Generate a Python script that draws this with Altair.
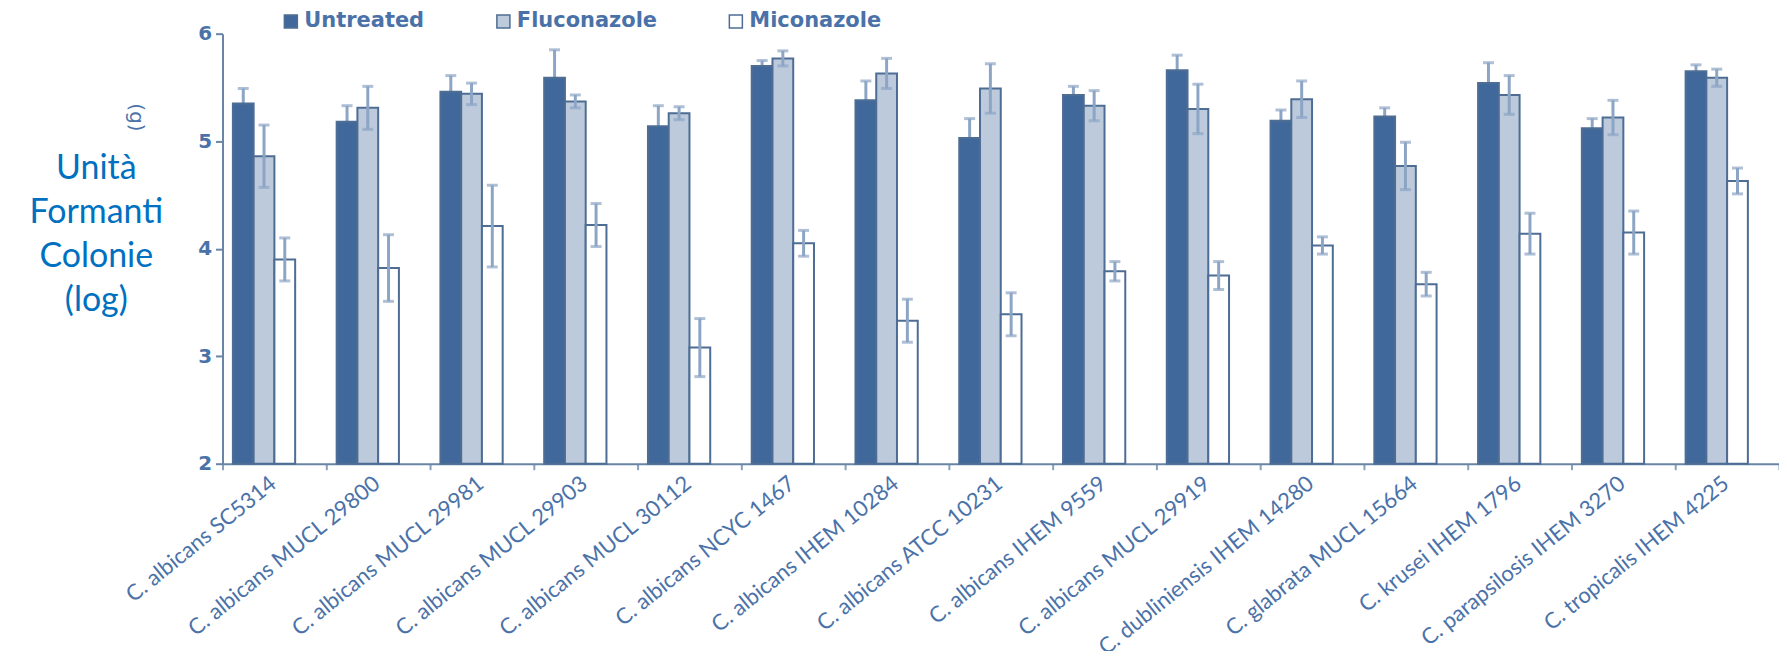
import altair as alt
import pandas as pd

strains = [
    "C. albicans SC5314", "C. albicans MUCL 29800", "C. albicans MUCL 29981",
    "C. albicans MUCL 29903", "C. albicans MUCL 30112", "C. albicans NCYC 1467",
    "C. albicans IHEM 10284", "C. albicans ATCC 10231", "C. albicans IHEM 9559",
    "C. albicans MUCL 29919", "C. dubliniensis IHEM 14280", "C. glabrata MUCL 15664",
    "C. krusei IHEM 1796", "C. parapsilosis IHEM 3270", "C. tropicalis IHEM 4225",
]
series = ["Untreated", "Fluconazole", "Miconazole"]

untreated = [5.35, 5.18, 5.46, 5.59, 5.14, 5.70, 5.38, 5.03, 5.43, 5.66, 5.19, 5.23, 5.54, 5.12, 5.65]
untreated_err = [0.14, 0.15, 0.15, 0.26, 0.19, 0.05, 0.18, 0.18, 0.08, 0.14, 0.10, 0.08, 0.19, 0.09, 0.06]
fluconazole = [4.86, 5.31, 5.44, 5.37, 5.26, 5.77, 5.63, 5.49, 5.33, 5.30, 5.39, 4.77, 5.43, 5.22, 5.59]
fluconazole_err = [0.29, 0.20, 0.10, 0.06, 0.06, 0.07, 0.14, 0.23, 0.14, 0.23, 0.17, 0.22, 0.18, 0.16, 0.08]
miconazole = [3.90, 3.82, 4.21, 4.22, 3.08, 4.05, 3.33, 3.39, 3.79, 3.75, 4.03, 3.67, 4.14, 4.15, 4.63]
miconazole_err = [0.20, 0.31, 0.38, 0.20, 0.27, 0.12, 0.20, 0.20, 0.09, 0.13, 0.08, 0.11, 0.19, 0.20, 0.12]

fills = ["#41689B", "#BCCADC", "#FFFFFF"]
edge = "#4E6D94"
text_col = "#4A72A8"

rows = []
for name, vals, errs in [("Untreated", untreated, untreated_err),
                         ("Fluconazole", fluconazole, fluconazole_err),
                         ("Miconazole", miconazole, miconazole_err)]:
    for s, v, e in zip(strains, vals, errs):
        rows.append({"strain": s, "series": name, "value": v, "lo": v - e, "hi": v + e})
df = pd.DataFrame(rows)

x_enc = alt.X(
    "strain:N", sort=strains,
    scale=alt.Scale(paddingInner=0, paddingOuter=0),
    axis=alt.Axis(
        title=None, labelAngle=-39, labelAlign="right", labelBaseline="top",
        tickBand="extent", labelFont="Lato", labelFontSize=22, labelColor=text_col,
        labelPadding=3, labelOffset=-8, labelOverlap=False, labelLimit=500,
        domainColor="#6A84A6", domainWidth=2, tickColor="#8AA0BD", tickSize=6, tickWidth=2,
    ),
)
xoff = alt.XOffset(
    "series:N", sort=series,
    scale=alt.Scale(domain=series + ["_"], paddingInner=0, paddingOuter=0.5),
)
y_scale = alt.Scale(domain=[2, 6], nice=False, zero=False)

base = alt.Chart(df)

bars = base.mark_bar(stroke=edge, strokeWidth=2).encode(
    x=x_enc,
    xOffset=xoff,
    y=alt.Y(
        "value:Q", scale=y_scale,
        axis=alt.Axis(
            values=[2, 3, 4, 5, 6], grid=False, format="d",
            title=["Unità", "Formanti", "Colonie", "(log)"],
            titleAngle=0, titleFont="Lato", titleFontSize=34, titleFontWeight="normal",
            titleColor="#0070C0", titleAlign="center", titleBaseline="top",
            titleLineHeight=44, titleX=-127, titleY=118,
            labelFont="DejaVu Sans", labelFontSize=20, labelFontWeight="bold",
            labelColor=text_col, labelPadding=4,
            domainColor="#6A84A6", domainWidth=2, tickColor="#6A84A6", tickSize=7, tickWidth=2,
        ),
    ),
    y2=alt.datum(2),
    color=alt.Color(
        "series:N", sort=series,
        scale=alt.Scale(domain=series, range=fills),
        legend=alt.Legend(
            title=None, orient="none", direction="horizontal", legendX=58, legendY=-23,
            symbolType="square", symbolSize=170, symbolStrokeColor=edge, symbolStrokeWidth=1.5,
            symbolOpacity=1,
            labelFont="DejaVu Sans", labelFontSize=21, labelFontWeight="bold",
            labelColor=text_col, columnPadding=68, labelOffset=3,
        ),
    ),
)

def err_layers(flt):
    b = base.transform_filter(flt)
    rule = b.mark_rule(color="#8DA5C5", strokeWidth=3).encode(
        x=alt.X("strain:N", sort=strains), xOffset=xoff,
        y=alt.Y("lo:Q", scale=y_scale), y2="hi:Q",
    )
    cap_hi = b.mark_tick(color="#8DA5C5", thickness=3, size=11).encode(
        x=alt.X("strain:N", sort=strains), xOffset=xoff, y=alt.Y("hi:Q", scale=y_scale),
    )
    cap_lo = b.mark_tick(color="#8DA5C5", thickness=3, size=11).encode(
        x=alt.X("strain:N", sort=strains), xOffset=xoff, y=alt.Y("lo:Q", scale=y_scale),
    )
    return rule + cap_hi + cap_lo

under = err_layers(alt.datum.series == "Untreated")
over = err_layers(alt.datum.series != "Untreated")

stray = alt.Chart(pd.DataFrame({"t": ["(g)"]})).mark_text(
    angle=90, font="DejaVu Sans", fontSize=20, color=text_col,
).encode(text="t:N", x=alt.value(-87), y=alt.value(84))

chart = alt.layer(under, bars, over, stray).properties(
    width=1560, height=431,
    autosize=alt.AutoSizeParams(type="none"),
    padding={"left": 215, "top": 25, "right": 0, "bottom": 187},
).configure_view(stroke=None)

chart.save("out.html", embed_options={"renderer": "svg", "actions": False})
